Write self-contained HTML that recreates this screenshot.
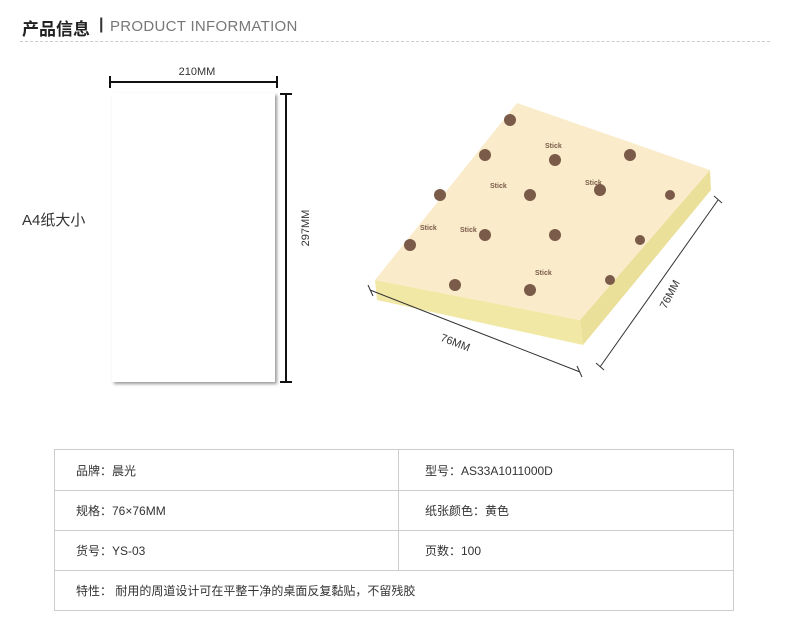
<!DOCTYPE html>
<html><head><meta charset="utf-8"><style>
body{margin:0;width:790px;height:618px;background:#fff;position:relative;font-family:"Liberation Sans","Noto Sans CJK SC",sans-serif;overflow:hidden}
.a{position:absolute}
td{border:1px solid #ccc;font-size:12px;color:#333;padding:0 0 0 21px;height:39px;box-sizing:border-box}
</style></head><body>
<div class="a" style="left:22px;top:15px;font-size:17px;font-weight:bold;color:#222">产品信息</div>
<div class="a" style="left:99px;top:16px;font-size:16px;font-weight:bold;color:#333">|</div>
<div class="a" style="left:110px;top:18px;font-size:15px;color:#777;letter-spacing:0.3px">PRODUCT INFORMATION</div>
<div class="a" style="left:20px;top:41px;width:750px;border-top:1px dashed #ccc"></div>

<div class="a" style="left:22px;top:209px;font-size:15px;color:#333">A4纸大小</div>
<div class="a" style="left:112px;top:93px;width:163px;height:289px;background:#fff;box-shadow:2px 2px 3px #999"></div>
<svg class="a" style="left:0;top:0" width="790" height="440">
<g stroke="#111" stroke-width="2">
<line x1="110" y1="82" x2="277" y2="82"/><line x1="110" y1="76" x2="110" y2="88"/><line x1="277" y1="76" x2="277" y2="88"/>
<line x1="286" y1="94" x2="286" y2="382"/><line x1="280" y1="94" x2="292" y2="94"/><line x1="280" y1="382" x2="292" y2="382"/>
</g>
<text x="197" y="75" font-size="11" text-anchor="middle" fill="#333" font-family="Liberation Sans">210MM</text>
<text transform="translate(309,228) rotate(-90)" font-size="11" text-anchor="middle" fill="#333" font-family="Liberation Sans">297MM</text>
<polygon points="375,280 580,320 583,345 377,300" fill="#f2e8a6"/>
<polygon points="580,320 710,170 711,190 583,345" fill="#ebe09a"/>
<polygon points="517,103 710,170 580,320 375,280" fill="#faeccb"/>
<g fill="#7a5a48" font-family="Liberation Sans" font-size="7" font-weight="bold">
<circle cx="510" cy="120" r="6"/><circle cx="555" cy="160" r="6"/><circle cx="630" cy="155" r="6"/>
<circle cx="485" cy="155" r="6"/><circle cx="530" cy="195" r="6"/><circle cx="600" cy="190" r="6"/><circle cx="670" cy="195" r="5"/>
<circle cx="440" cy="195" r="6"/><circle cx="485" cy="235" r="6"/><circle cx="555" cy="235" r="6"/><circle cx="640" cy="240" r="5"/>
<circle cx="410" cy="245" r="6"/><circle cx="455" cy="285" r="6"/><circle cx="530" cy="290" r="6"/><circle cx="610" cy="280" r="5"/>
<text x="545" y="148">Stick</text><text x="490" y="188">Stick</text><text x="460" y="232">Stick</text><text x="420" y="230">Stick</text><text x="535" y="275">Stick</text><text x="585" y="185">Stick</text>
</g>
<g stroke="#333" stroke-width="1">
<line x1="370" y1="290" x2="580" y2="372"/><line x1="368" y1="285" x2="373" y2="296"/><line x1="577" y1="366" x2="582" y2="377"/>
<line x1="600" y1="367" x2="718" y2="200"/><line x1="596" y1="363" x2="604" y2="370"/><line x1="714" y1="196" x2="722" y2="203"/>
</g>
<text transform="translate(454,346) rotate(21)" font-size="11" text-anchor="middle" fill="#333" font-family="Liberation Sans">76MM</text>
<text transform="translate(673,296) rotate(-62)" font-size="11" text-anchor="middle" fill="#333" font-family="Liberation Sans">76MM</text>
</svg>

<table class="a" style="left:54px;top:449px;width:680px;border-collapse:collapse">
<tr><td style="width:344px;height:41px">品牌：晨光</td><td style="padding-left:26px;height:41px">型号：AS33A1011000D</td></tr>
<tr><td style="height:40px">规格：76×76MM</td><td style="padding-left:26px;height:40px">纸张颜色：黄色</td></tr>
<tr><td style="height:40px">货号：YS-03</td><td style="padding-left:26px;height:40px">页数：100</td></tr>
<tr><td colspan="2" style="height:40px">特性： 耐用的周道设计可在平整干净的桌面反复黏贴，不留残胶</td></tr>
</table>
</body></html>
